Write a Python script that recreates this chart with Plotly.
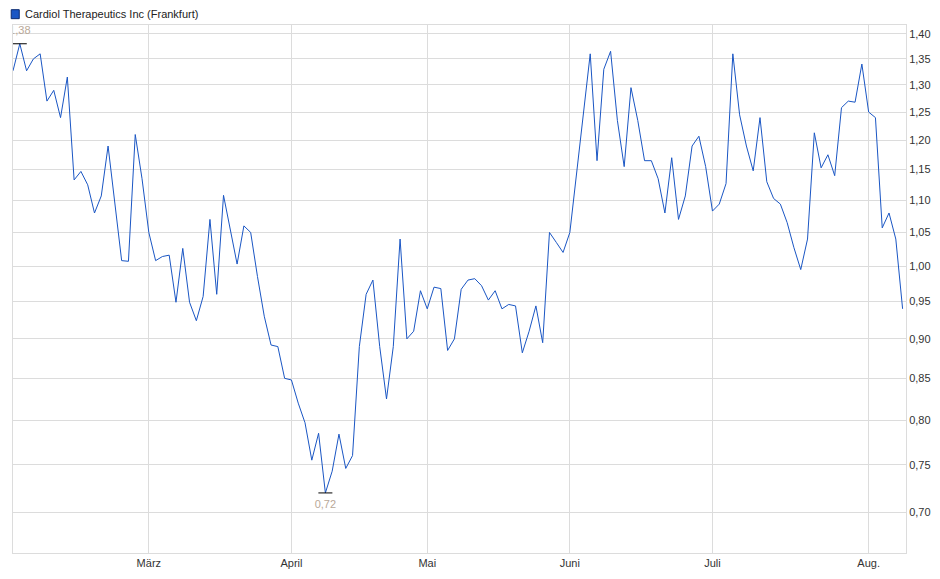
import numpy as np
import pandas as pd
import plotly.graph_objects as go

# Frankfurt trading days, Feb 3 - Aug 8 2025
holidays = ["2025-04-18", "2025-04-21", "2025-05-01"]
dates = [d for d in pd.bdate_range("2025-02-03", "2025-08-08") if d.strftime("%Y-%m-%d") not in holidays]

prices = [
    1.327, 1.38, 1.327, 1.35, 1.36, 1.27, 1.29, 1.24, 1.315, 1.133,
    1.147, 1.125, 1.08, 1.107, 1.19, 1.097, 1.008, 1.007, 1.21, 1.135,
    1.05, 1.008, 1.014, 1.016, 0.949, 1.026, 0.949, 0.924, 0.957, 1.07,
    0.96, 1.108, 1.054, 1.003, 1.06, 1.05, 0.985, 0.93, 0.892, 0.89,
    0.85, 0.848, 0.82, 0.797, 0.755, 0.785, 0.72, 0.743, 0.784, 0.746,
    0.76, 0.89, 0.96, 0.98, 0.89, 0.825, 0.89, 1.04, 0.90, 0.91,
    0.965, 0.94, 0.97, 0.968, 0.885, 0.90, 0.967, 0.98, 0.982, 0.972,
    0.952, 0.965, 0.94, 0.946, 0.944, 0.882, 0.91, 0.944, 0.895, 1.05,
    1.035, 1.02, 1.05, 1.145, 1.24, 1.36, 1.165, 1.33, 1.365, 1.235,
    1.155, 1.295, 1.235, 1.165, 1.165, 1.135, 1.08, 1.17, 1.07, 1.107,
    1.19, 1.207, 1.155, 1.083, 1.094, 1.127, 1.36, 1.245, 1.19, 1.148,
    1.24, 1.13, 1.103, 1.094, 1.065, 1.027, 0.995, 1.04, 1.213, 1.153,
    1.175, 1.14, 1.258, 1.27, 1.268, 1.34, 1.25, 1.24, 1.057, 1.08,
    1.04, 0.94,
]

month_ticks = ["2025-03-03", "2025-04-01", "2025-05-02", "2025-06-02", "2025-07-01", "2025-08-01"]
month_labels = ["März", "April", "Mai", "Juni", "Juli", "Aug."]
y_ticks = [0.70, 0.75, 0.80, 0.85, 0.90, 0.95, 1.00, 1.05, 1.10, 1.15, 1.20, 1.25, 1.30, 1.35, 1.40]

fig = go.Figure()
fig.add_scatter(x=dates, y=prices, mode="lines", line=dict(color="#1a56c4", width=1),
                showlegend=False, hoverinfo="x+y")

# max / min markers
i_max = int(np.argmax(prices))
i_min = int(np.argmin(prices))
fig.add_scatter(x=[dates[i_max], dates[i_min]], y=[prices[i_max], prices[i_min]],
                mode="markers+text", marker=dict(symbol="line-ew", size=10, line=dict(color="#000", width=1)),
                text=[f"{prices[i_max]:.2f}".replace(".", ","), f"{prices[i_min]:.2f}".replace(".", ",")],
                textposition=["top center", "bottom center"],
                textfont=dict(color="#b8a898", size=11, family="Liberation Sans"),
                showlegend=False, hoverinfo="skip")

# legend box
fig.add_shape(type="rect", xref="paper", yref="paper", x0=-0.002, x1=0.007, y0=1.012, y1=1.029,
              fillcolor="#1a56c4", line=dict(color="#0a2a70", width=1))
fig.add_annotation(text="Cardiol Therapeutics Inc (Frankfurt)", xref="paper", yref="paper",
                   x=0.011, y=1.021, xanchor="left", yanchor="middle", showarrow=False,
                   font=dict(size=11, color="#222", family="Liberation Sans"))

grid = "#dcdcdc"
fig.update_layout(
    width=940, height=579,
    margin=dict(l=5, r=42, t=17, b=34),
    plot_bgcolor="white", paper_bgcolor="white",
    separators=",.",
    font=dict(family="Liberation Sans", size=11, color="#333"),
    xaxis=dict(
        range=["2025-02-03", "2025-08-08 12:00"],
        rangebreaks=[dict(bounds=["sat", "mon"]), dict(values=holidays)],
        tickvals=month_ticks, ticktext=month_labels,
        showgrid=True, gridcolor=grid, gridwidth=1,
        showline=True, linecolor=grid, mirror=True, ticks="", zeroline=False,
    ),
    yaxis=dict(
        type="log", side="right",
        range=[np.log10(0.66), np.log10(1.418)],
        tickvals=y_ticks, tickformat=".2f",
        showgrid=True, gridcolor=grid, gridwidth=1,
        showline=True, linecolor=grid, mirror=True, ticks="", zeroline=False,
    ),
)

fig.write_html("out.html")
